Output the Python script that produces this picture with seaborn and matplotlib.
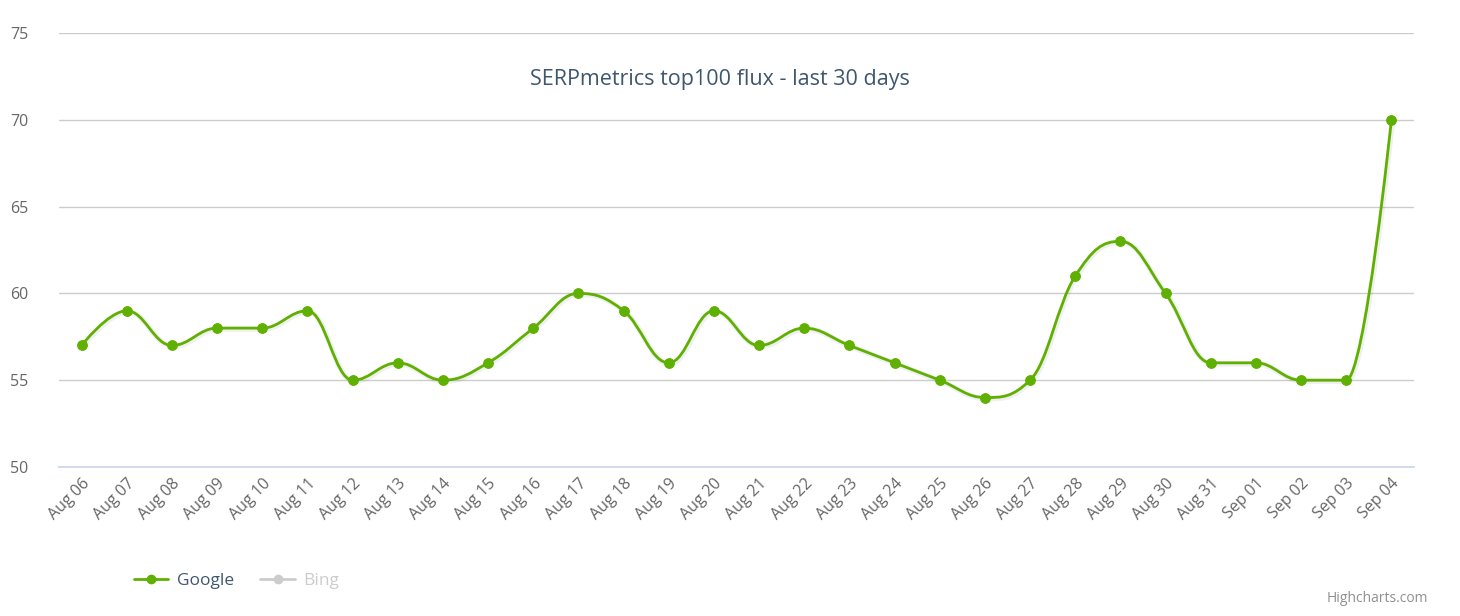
import matplotlib
matplotlib.use("Agg")
import matplotlib.pyplot as plt
import seaborn as sns
import pandas as pd
import numpy as np
from matplotlib.path import Path
from matplotlib.patches import PathPatch
from matplotlib.lines import Line2D

dates = ["Aug 06","Aug 07","Aug 08","Aug 09","Aug 10","Aug 11","Aug 12","Aug 13","Aug 14","Aug 15",
         "Aug 16","Aug 17","Aug 18","Aug 19","Aug 20","Aug 21","Aug 22","Aug 23","Aug 24","Aug 25",
         "Aug 26","Aug 27","Aug 28","Aug 29","Aug 30","Aug 31","Sep 01","Sep 02","Sep 03","Sep 04"]
google = [57,59,57,58,58,59,55,56,55,56,58,60,59,56,59,57,58,57,56,55,54,55,61,63,60,56,56,55,55,70]
yticks = [50,55,60,65,70,75]

sns.set_theme(style="white")
plt.rcParams['font.family'] = ['Open Sans', 'DejaVu Sans']
GREEN = '#5fb000'

fig = plt.figure(figsize=(14.6, 6.16), dpi=100)
ax = fig.add_axes([59/1460, 1-467/616, (1414-59)/1460, (467-33)/616])
df = pd.DataFrame({"x": np.arange(len(dates)), "y": google})

def spline_path(xs, ys, s=1.5):
    n = len(xs); d = s + 1
    L = [None]*n; R = [None]*n
    for i in range(1, n-1):
        px, py = xs[i], ys[i]; lx, ly = xs[i-1], ys[i-1]; nx, ny = xs[i+1], ys[i+1]
        lcx = (s*px+lx)/d; lcy = (s*py+ly)/d
        rcx = (s*px+nx)/d; rcy = (s*py+ny)/d
        if rcx != lcx:
            c = ((rcy-lcy)*(rcx-px))/(rcx-lcx) + py - rcy
            lcy += c; rcy += c
        if lcy > ly and lcy > py:
            lcy = max(ly, py); rcy = 2*py - lcy
        elif lcy < ly and lcy < py:
            lcy = min(ly, py); rcy = 2*py - lcy
        if rcy > ny and rcy > py:
            rcy = max(ny, py); lcy = 2*py - rcy
        elif rcy < ny and rcy < py:
            rcy = min(ny, py); lcy = 2*py - rcy
        L[i] = (lcx, lcy); R[i] = (rcx, rcy)
    verts = [(xs[0], ys[0])]; codes = [Path.MOVETO]
    for i in range(1, n):
        c1 = R[i-1] if R[i-1] else (xs[i-1], ys[i-1])
        c2 = L[i] if L[i] else (xs[i], ys[i])
        verts += [c1, c2, (xs[i], ys[i])]; codes += [Path.CURVE4]*3
    return Path(verts, codes)

p = spline_path(list(df.x.astype(float)), list(df.y.astype(float)))
ax.add_patch(PathPatch(p, fill=False, edgecolor='#000000', alpha=0.06, lw=4,
                       transform=ax.transData + matplotlib.transforms.ScaledTranslation(1/100, -1/100, fig.dpi_scale_trans)))
ax.add_patch(PathPatch(p, fill=False, edgecolor=GREEN, lw=2, zorder=3))
sns.lineplot(data=df, x="x", y="y", ax=ax, linestyle='none', marker='o', markersize=7,
             color=GREEN, markeredgecolor=GREEN, zorder=4)

ax.set_xlim(-0.5, len(dates)-0.5)
ax.set_ylim(50, 75)
ax.set_yticks(yticks)
ax.set_yticklabels([str(v) for v in yticks], color='#666666', fontsize=11.5)
ax.tick_params(axis='y', length=0, pad=22)
for v in yticks[1:]:
    ax.axhline(v, color='#cccccc', lw=1, zorder=0)
ax.set_xticks(np.arange(len(dates)))
ax.set_xticklabels(dates, rotation=45, ha='right', rotation_mode='anchor', color='#666666', fontsize=11.5)
ax.tick_params(axis='x', length=0, pad=6)
ax.set_xticks(np.arange(len(dates)+1)-0.5, minor=True)
ax.tick_params(axis='x', which='minor', length=10, color='#ccd6eb', width=1)
for s in ['top', 'right', 'left']:
    ax.spines[s].set_visible(False)
ax.spines['bottom'].set_color('#ccd6eb')
ax.set_xlabel(''); ax.set_ylabel('')

fig.text(720/1460, 1-80/616, 'SERPmetrics top100 flux - last 30 days', ha='center', va='center',
         fontsize=15.5, color='#3e576f')
h1 = Line2D([], [], color=GREEN, lw=2, marker='o', markersize=6)
h2 = Line2D([], [], color='#cccccc', lw=2, marker='o', markersize=6)
leg = fig.legend([h1, h2], ['Google', 'Bing'], loc='center left', bbox_to_anchor=(118/1460, 1-581/616),
                 ncol=2, frameon=False, fontsize=12.5, handlelength=2, columnspacing=1.5, handletextpad=0.5)
leg.get_texts()[0].set_color('#3e576f'); leg.get_texts()[1].set_color('#cccccc')
fig.text(1428/1460, 1-598/616, 'Highcharts.com', ha='right', va='center', fontsize=10, color='#909090')
fig.savefig('out.png', dpi=100)
